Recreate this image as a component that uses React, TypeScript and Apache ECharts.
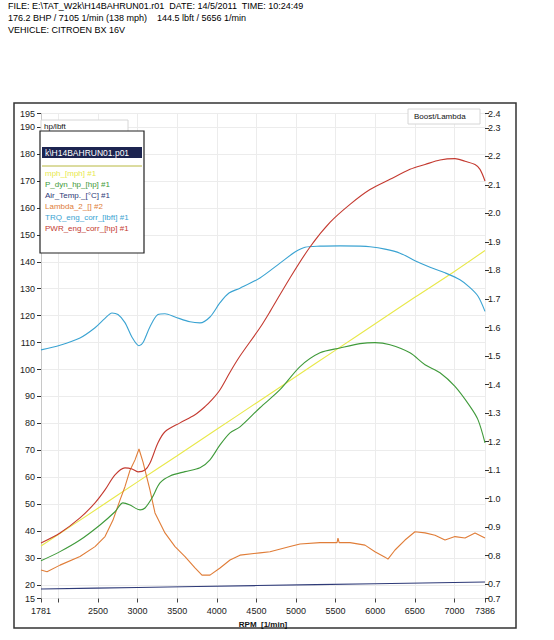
import React, { useEffect, useRef } from "react";
import * as echarts from "echarts";

// Header / info texts
const headerLines = [
  "FILE: E:\\TAT_W2k\\H14BAHRUN01.r01  DATE: 14/5/2011  TIME: 10:24:49",
  "176.2 BHP / 7105 1/min (138 mph)    144.5 lbft / 5656 1/min",
  "VEHICLE: CITROEN BX 16V",
];
const runName = "k\\H14BAHRUN01.p01";
const legendNames = [
  "mph_[mph] #1",
  "P_dyn_hp_[hp] #1",
  "Air_Temp._[°C] #1",
  "Lambda_2_[] #2",
  "TRQ_eng_corr_[lbft] #1",
  "PWR_eng_corr_[hp] #1",
];
const legendColors = ["#e8e84a", "#3f9a3a", "#2e3a78", "#e07d38", "#3aa3d2", "#c43a30"];

// X axis (RPM)
const rpmMin = 1781;
const rpmMax = 7386;

// mph (left axis)
const mphRpm = [1781, 2500, 3000, 3500, 4000, 4500, 5000, 5500, 6000, 6500, 7000, 7386];
const mphVal = [34.5, 48.5, 58.3, 68.0, 77.8, 87.6, 97.4, 107.2, 117.0, 126.8, 136.4, 144.2];

// P_dyn_hp (left axis)
const pdynRpm = [1781, 2021, 2273, 2526, 2715, 2816, 2905, 3031, 3094, 3182, 3283, 3410, 3599, 3788, 3914, 4041, 4167, 4293, 4545, 4798, 5051, 5303, 5556, 5808, 5997, 6187, 6439, 6629, 6818, 7007, 7197, 7298, 7386];
const pdynVal = [29.0, 32.4, 36.7, 42.3, 47.2, 50.5, 49.7, 47.9, 48.6, 52.3, 57.9, 60.5, 62.1, 63.5, 66.5, 72.0, 76.5, 78.7, 85.8, 92.5, 101.1, 106.2, 108.0, 109.6, 110.0, 109.2, 106.2, 101.8, 98.8, 93.7, 86.3, 81.3, 72.8];

// Air temperature (left axis)
const airRpm = [1781, 3000, 4500, 6000, 7386];
const airVal = [18.5, 19.1, 19.8, 20.5, 21.1];

// Lambda (right axis)
const lamRpm = [1781, 1857, 2021, 2273, 2463, 2589, 2690, 2778, 2841, 2905, 2968, 3018, 3069, 3157, 3220, 3346, 3473, 3599, 3725, 3813, 3914, 4041, 4167, 4293, 4545, 4672, 4924, 5051, 5303, 5518, 5530, 5545, 5682, 5871, 5997, 6124, 6161, 6250, 6376, 6502, 6629, 6755, 6881, 7007, 7134, 7260, 7386];
const lamVal = [0.75, 0.744, 0.767, 0.797, 0.832, 0.867, 0.925, 0.995, 1.042, 1.10, 1.136, 1.174, 1.128, 1.03, 0.95, 0.88, 0.832, 0.797, 0.757, 0.732, 0.732, 0.757, 0.785, 0.802, 0.81, 0.814, 0.832, 0.841, 0.846, 0.846, 0.862, 0.846, 0.846, 0.837, 0.814, 0.795, 0.788, 0.82, 0.855, 0.884, 0.88, 0.872, 0.855, 0.867, 0.862, 0.88, 0.862];

// TRQ (left axis)
const trqRpm = [1781, 2021, 2273, 2463, 2589, 2677, 2753, 2841, 2930, 3018, 3069, 3157, 3258, 3346, 3473, 3662, 3788, 3914, 4041, 4154, 4293, 4545, 4798, 4987, 5114, 5303, 5556, 5808, 5934, 6124, 6313, 6502, 6692, 6881, 7070, 7197, 7298, 7386];
const trqVal = [107.3, 109.0, 111.7, 115.5, 119.0, 121.0, 120.4, 117.4, 112.0, 108.8, 110.0, 115.9, 120.4, 120.7, 119.5, 117.7, 117.3, 119.5, 124.8, 128.4, 130.2, 134.0, 139.5, 143.6, 145.4, 145.8, 145.9, 145.8, 145.6, 144.7, 143.2, 140.4, 138.0, 135.9, 133.3, 130.4, 127.2, 121.6];

// PWR (left axis)
const pwrRpm = [1781, 2021, 2273, 2463, 2589, 2715, 2841, 2930, 3006, 3094, 3157, 3258, 3346, 3536, 3725, 3851, 3940, 4041, 4167, 4293, 4545, 4672, 4924, 5177, 5429, 5682, 5934, 6187, 6439, 6629, 6818, 7007, 7134, 7260, 7323, 7386];
const pwrVal = [35.6, 39.3, 44.9, 50.5, 55.3, 60.9, 63.5, 63.1, 62.0, 62.7, 65.3, 72.8, 76.9, 80.2, 83.2, 86.2, 88.8, 92.5, 99.0, 105.0, 115.5, 121.5, 134.0, 145.5, 154.6, 161.3, 166.8, 170.6, 174.3, 176.1, 177.8, 178.3, 177.3, 176.1, 174.3, 170.0];

const zip = (xs: number[], ys: number[]) => xs.map((x, i) => [x, ys[i]]);

export default function App() {
  const ref = useRef<HTMLDivElement>(null);
  useEffect(() => {
    if (!ref.current) return;
    const chart = echarts.init(ref.current, null, { renderer: "svg" });
    const font = "Liberation Sans";
    const lineSeries = (name: string, data: number[][], color: string, yAxisIndex = 0, smooth: number | boolean = 0.3) => ({
      name,
      type: "line",
      data,
      yAxisIndex,
      showSymbol: false,
      symbol: "none",
      smooth,
      lineStyle: { color, width: 1.1 },
      itemStyle: { color },
      z: 3,
    });
    const legendY = [173, 184, 195, 206, 217, 228];
    chart.setOption({
      animation: false,
      backgroundColor: "#ffffff",
      grid: {
        left: 41,
        right: 69,
        top: 113.6,
        bottom: 41.5,
        containLabel: false,
        outerBoundsMode: "none",
      },
      xAxis: {
        type: "value",
        min: rpmMin,
        max: rpmMax,
        minInterval: 500,
        maxInterval: 500,
        name: "RPM  [1/min]",
        nameLocation: "middle",
        nameGap: 20,
        nameTextStyle: { fontFamily: font, fontSize: 8, fontWeight: "bold", color: "#111" },
        axisLine: { show: false },
        axisTick: { show: true, length: 4, lineStyle: { color: "#444" } },
        axisLabel: {
          show: true,
          showMinLabel: true,
          showMaxLabel: true,
          margin: 8,
          fontFamily: font,
          fontSize: 9,
          color: "#222",
          formatter: (v: number) => (v === 2000 ? "" : String(Math.round(v))),
        },
        splitLine: { show: true, lineStyle: { color: "#ececec", width: 1 } },
      },
      yAxis: [
        {
          type: "value",
          min: 15,
          max: 195,
          minInterval: 10,
          maxInterval: 10,
          position: "left",
          axisLine: { show: true, lineStyle: { color: "#c8c8c8" } },
          axisTick: { show: true, length: 4, lineStyle: { color: "#333" } },
          axisLabel: {
            showMinLabel: true,
            showMaxLabel: true,
            margin: 6,
            fontFamily: font,
            fontSize: 9,
            color: "#222",
          },
          splitLine: { show: true, lineStyle: { color: "#ececec", width: 1 } },
        },
        {
          type: "value",
          min: 0.65,
          max: 2.35,
          minInterval: 0.1,
          maxInterval: 0.1,
          position: "right",
          axisLine: { show: false },
          axisTick: { show: true, length: 4, lineStyle: { color: "#333" } },
          axisLabel: {
            showMinLabel: true,
            showMaxLabel: true,
            margin: 3,
            fontFamily: font,
            fontSize: 9,
            color: "#222",
            formatter: (v: number) => v.toFixed(1),
          },
          splitLine: { show: false },
        },
      ],
      series: [
        lineSeries(legendNames[2], zip(airRpm, airVal), legendColors[2]),
        lineSeries(legendNames[0], zip(mphRpm, mphVal), legendColors[0]),
        lineSeries(legendNames[3], zip(lamRpm, lamVal), legendColors[3], 1, false),
        lineSeries(legendNames[1], zip(pdynRpm, pdynVal), legendColors[1]),
        lineSeries(legendNames[4], zip(trqRpm, trqVal), legendColors[4]),
        lineSeries(legendNames[5], zip(pwrRpm, pwrVal), legendColors[5]),
      ],
      graphic: [
        ...headerLines.map((t, i) => ({
          type: "text",
          left: 8,
          top: 1 + i * 12,
          style: { text: t, fontFamily: font, fontSize: 9, fill: "#000" },
        })),
        {
          type: "rect",
          shape: { x: 14, y: 103, width: 502, height: 525 },
          style: { fill: "none", stroke: "#333", lineWidth: 1.5 },
          silent: true,
        },
        {
          type: "rect",
          shape: { x: 41, y: 120, width: 87, height: 13 },
          style: { fill: "#fff", stroke: "#d6d6d6", lineWidth: 1 },
          z: 10,
        },
        {
          type: "text",
          x: 44,
          y: 126.5,
          style: { text: "hp/lbft", fontFamily: font, fontSize: 8, fill: "#111", verticalAlign: "middle" },
          z: 11,
        },
        {
          type: "rect",
          shape: { x: 408, y: 109, width: 72, height: 15 },
          style: { fill: "#fff", stroke: "#d6d6d6", lineWidth: 1 },
          z: 10,
        },
        {
          type: "text",
          x: 414,
          y: 116.5,
          style: { text: "Boost/Lambda", fontFamily: font, fontSize: 8, fill: "#111", verticalAlign: "middle" },
          z: 11,
        },
        {
          type: "rect",
          shape: { x: 40, y: 131, width: 104, height: 122 },
          style: { fill: "#fff", stroke: "#222", lineWidth: 1.2 },
          z: 12,
        },
        {
          type: "rect",
          shape: { x: 42, y: 147, width: 100, height: 11 },
          style: { fill: "#1c2450" },
          z: 13,
        },
        {
          type: "text",
          x: 45,
          y: 152.5,
          style: { text: runName, fontFamily: font, fontSize: 8.5, fill: "#ffffff", verticalAlign: "middle" },
          z: 14,
        },
        {
          type: "line",
          shape: { x1: 42, y1: 166, x2: 142, y2: 166 },
          style: { stroke: "#b8b840", lineWidth: 1 },
          z: 13,
        },
        ...legendNames.map((n, i) => ({
          type: "text",
          x: 45,
          y: legendY[i],
          style: { text: n, fontFamily: font, fontSize: 8, fill: legendColors[i], verticalAlign: "middle" },
          z: 14,
        })),
      ],
    });
    return () => chart.dispose();
  }, []);
  return (
    <div
      ref={ref}
      style={{ position: "absolute", left: 0, top: 0, width: 554, height: 640, background: "#fff" }}
    />
  );
}
